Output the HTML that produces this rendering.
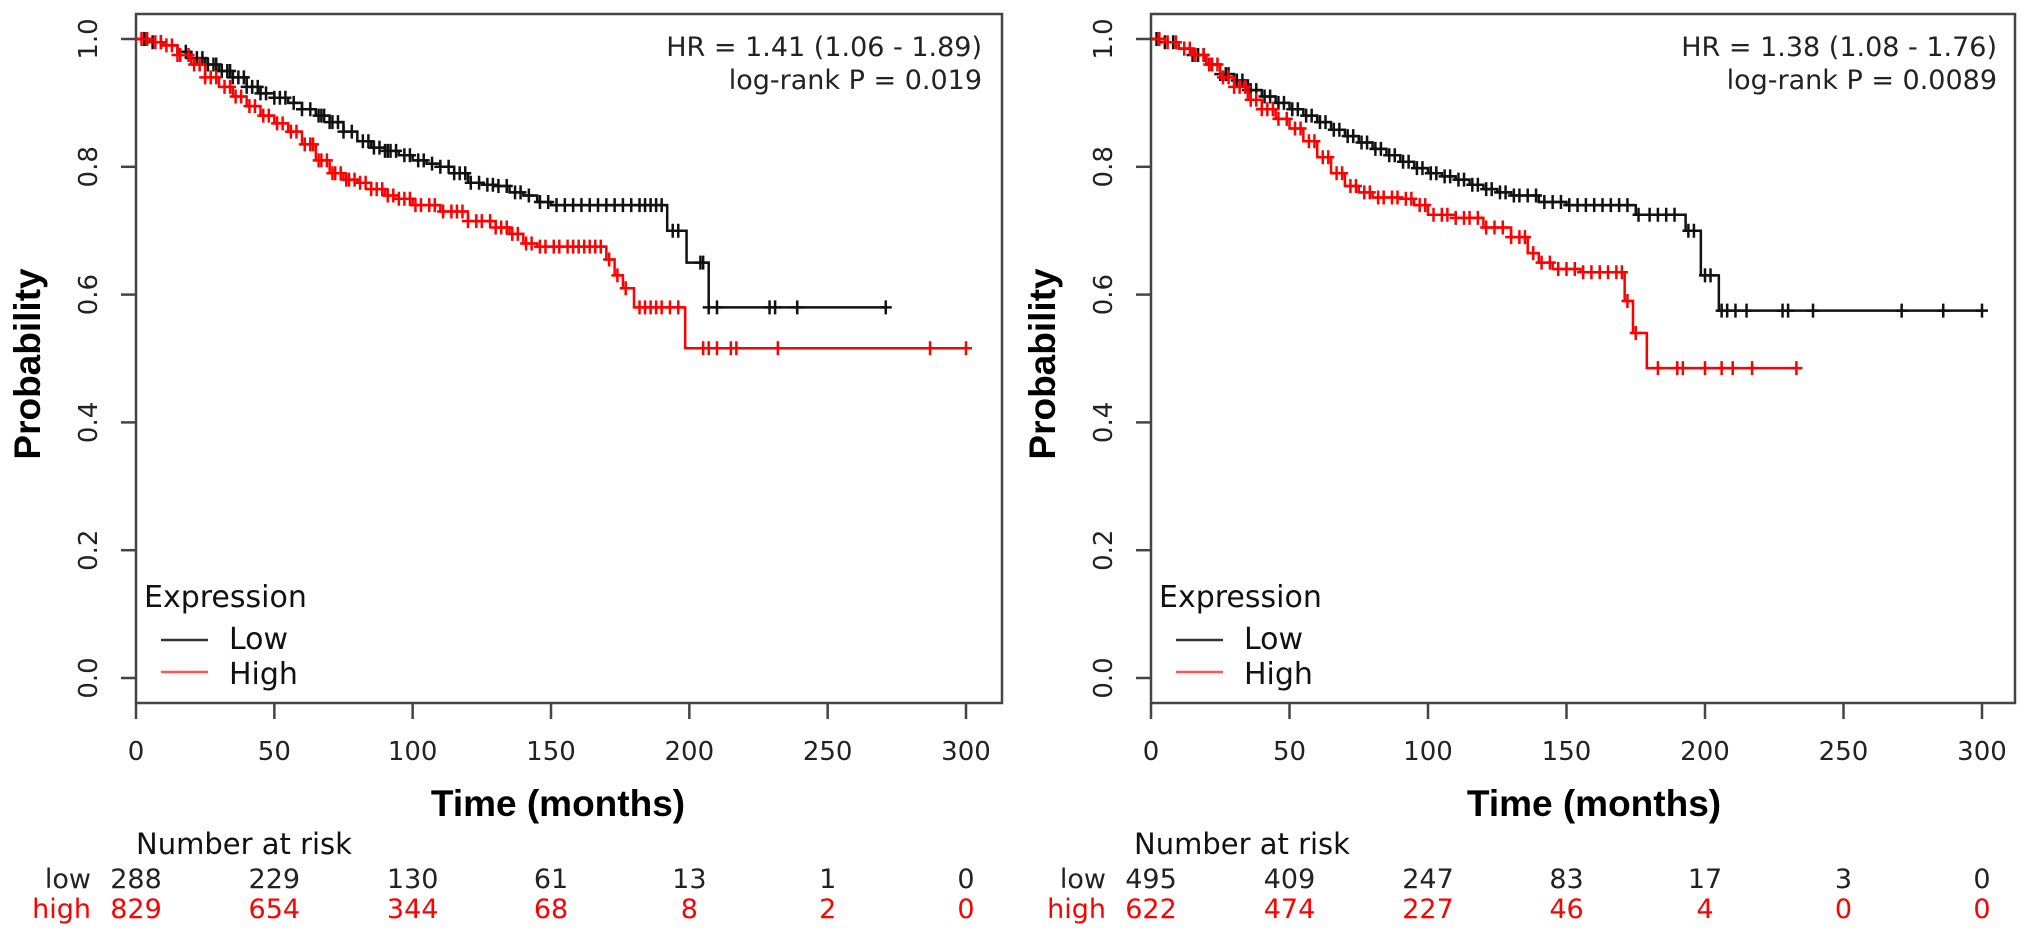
<!DOCTYPE html>
<html><head><meta charset="utf-8"><style>
html,body{margin:0;padding:0;background:#fff;}
svg{display:block;}
.t{font-family:"DejaVu Sans","Liberation Sans",sans-serif;}
.b{font-family:"Liberation Sans",sans-serif;font-weight:bold;}
</style></head><body>
<svg id="c" width="2031" height="940" viewBox="0 0 2031 940" xmlns="http://www.w3.org/2000/svg"></svg>
<script>
const xTicks=[0,50,100,150,200,250,300];
const yTicks=[0,0.2,0.4,0.6,0.8,1.0];
const yTickLabels=["0.0","0.2","0.4","0.6","0.8","1.0"];
// Panel A
const aLowT=[0,5,10,15,20,25,30,35,40,45,50,55,60,65,70,75,80,85,90,95,100,105,110,115,120,125,130,135,140,145,150,192,199,207];
const aLowS=[1,0.995,0.99,0.98,0.97,0.96,0.95,0.94,0.925,0.915,0.908,0.9,0.89,0.88,0.87,0.855,0.84,0.83,0.825,0.818,0.81,0.805,0.80,0.79,0.775,0.772,0.77,0.76,0.755,0.745,0.74,0.70,0.65,0.58];
const aLowEnd=271;
const aLowCens=[3,4,6,9,18,20,22,24,26,28,29,31,33,34,35,37,39,40,42,44,45,47,50,52,54,57,60,63,66,67,68,70,71,73,75,78,82,84,86,88,90,91,92,94,97,99,102,104,107,110,113,115,117,119,121,124,127,129,131,134,137,139,142,146,149,152,155,158,161,164,167,170,173,176,179,182,184,186,188,190,194,196,204,205,207,210,229,231,239,271];
const aHighT=[0,5,10,15,20,25,30,35,40,45,50,55,60,65,70,75,80,85,90,95,100,110,120,130,135,140,145,170,173,176,180,198.5];
const aHighS=[1,0.995,0.99,0.975,0.96,0.94,0.925,0.91,0.895,0.88,0.868,0.855,0.835,0.81,0.79,0.78,0.775,0.765,0.755,0.75,0.74,0.73,0.715,0.705,0.695,0.68,0.675,0.655,0.63,0.61,0.58,0.516];
const aHighEnd=300;
const aHighCens=[2,4,7,9,11,13,15,16,19,21,23,25,27,29,32,34,36,38,41,43,46,48,51,53,56,58,61,63,64,66,67,69,71,72,74,76,77,79,81,83,85,87,89,91,93,95,97,99,101,103,106,108,111,114,116,118,120,123,125,128,130,132,134,136,138,141,143,146,148,151,153,156,158,160,162,164,166,168,171,174,177,182,184,186,188,190,193,196,205,207,210,215,217,232,287,300];
const aRiskLow=["288","229","130","61","13","1","0"];
const aRiskHigh=["829","654","344","68","8","2","0"];
// Panel B
const bLowT=[0,5,10,15,20,25,30,35,40,45,50,55,60,65,70,75,80,85,90,95,100,105,110,115,120,125,130,140,150,175,193,198.5,205];
const bLowS=[1,0.995,0.985,0.975,0.96,0.945,0.935,0.92,0.91,0.9,0.89,0.88,0.87,0.858,0.848,0.838,0.828,0.818,0.808,0.798,0.79,0.785,0.78,0.772,0.765,0.76,0.755,0.745,0.74,0.725,0.70,0.63,0.575];
const bLowEnd=300;
const bLowCens=[2,5,8,12,15,17,19,22,25,27,28,31,33,35,36,38,41,43,46,48,51,53,56,58,61,63,66,68,71,73,76,78,81,83,86,88,91,93,96,98,101,103,106,108,111,113,116,118,121,123,126,128,131,133,136,139,142,145,148,151,154,157,160,163,166,169,172,176,180,183,186,189,194,196,200,202,206,208,211,215,228,230,239,271,286,300];
const bHighT=[0,5,10,15,20,25,30,35,40,45,50,55,60,65,70,75,80,90,95,100,110,120,130,136,140,145,155,171,174,179];
const bHighS=[1,0.995,0.985,0.975,0.96,0.94,0.925,0.905,0.89,0.875,0.86,0.84,0.815,0.79,0.77,0.76,0.752,0.75,0.74,0.725,0.72,0.705,0.69,0.665,0.65,0.64,0.635,0.59,0.54,0.485];
const bHighEnd=233;
const bHighCens=[3,6,9,12,14,16,19,21,22,24,26,28,30,32,34,36,38,40,42,44,46,49,52,54,57,59,62,64,67,69,72,74,77,79,82,84,87,89,92,94,97,99,102,105,107,110,113,115,118,121,124,127,130,133,135,138,141,144,147,150,153,156,159,162,165,168,170,172,175,183,190,192,200,206,210,217,233];
const bRiskLow=["495","409","247","83","17","3","0"];
const bRiskHigh=["622","474","227","46","4","0","0"];

const NS="http://www.w3.org/2000/svg";
const svg=document.getElementById('c');
function mk(tag,attrs,parent,text){const e=document.createElementNS(NS,tag);for(const k in attrs)e.setAttribute(k,attrs[k]);if(text!==undefined)e.textContent=text;(parent||svg).appendChild(e);return e;}
function stepAt(T,S,t){let v=S[0];for(let i=0;i<T.length;i++){if(T[i]<=t)v=S[i];}return v;}

function panel(p){
  const g=mk('g',{});
  
  
  const X=t=>p.x0+t*(p.x300-p.x0)/300;
  const Y=v=>678-v*639;
  const box=mk('rect',{x:p.boxL,y:14,width:p.boxR-p.boxL,height:689,fill:'none',stroke:'#444','stroke-width':2.5},g);
  
  
  xTicks.forEach(v=>{
    const l=mk('line',{x1:X(v),x2:X(v),y1:703,y2:719,stroke:'#444','stroke-width':2.5},g);
    
    
    const tx=mk('text',{x:X(v),y:760,'text-anchor':'middle','font-size':26,fill:'#222',class:'t'},g,String(v));
    
    
  });
  yTicks.forEach((v,i)=>{
    const l=mk('line',{x1:p.boxL-15,x2:p.boxL,y1:Y(v),y2:Y(v),stroke:'#444','stroke-width':2.5},g);
    
    
    const tx=mk('text',{x:0,y:0,transform:`translate(${p.boxL-39},${Y(v)}) rotate(-90)`,'text-anchor':'middle','font-size':26,fill:'#222',class:'t'},g,yTickLabels[i]);
    
    
  });
  const yt=mk('text',{x:0,y:0,transform:`translate(${p.boxL-96},364) rotate(-90)`,'text-anchor':'middle','font-size':37,fill:'#000',class:'b'},g,'Probability');
  
  
  const xt=mk('text',{x:p.xTitle,y:816,'text-anchor':'middle','font-size':37,fill:'#000',class:'b'},g,'Time (months)');
  
  
  const h1=mk('text',{x:p.statR,y:56,'text-anchor':'end','font-size':27,fill:'#222',class:'t'},g,p.hr);
  
  
  const h2=mk('text',{x:p.statR,y:89,'text-anchor':'end','font-size':27,fill:'#222',class:'t'},g,p.pv);
  
  
  function curve(T,S,end,C,color,nm){
    let d=`M${X(T[0])},${Y(S[0])}`;
    for(let i=1;i<T.length;i++){d+=` H${X(T[i])} V${Y(S[i])}`;}
    d+=` H${X(end)}`;
    const path=mk('path',{d:d,fill:'none',stroke:color,'stroke-width':2.5},g);
    
    
    let cd='';
    C.forEach(t=>{const x=X(t),y=Y(stepAt(T,S,t));cd+=`M${x-6},${y}H${x+6}M${x},${y-7}V${y+7}`;});
    const cp=mk('path',{d:cd,fill:'none',stroke:color,'stroke-width':2.5},g);
    
    
  }
  curve(p.lowT,p.lowS,p.lowEnd,p.lowC,'#111','low');
  curve(p.highT,p.highS,p.highEnd,p.highC,'#f00','high');
  const lt=mk('text',{x:p.x0+8,y:607,'font-size':30,fill:'#111',class:'t'},g,'Expression');
  
  
  const l1=mk('line',{x1:p.x0+25,x2:p.x0+72,y1:640,y2:640,stroke:'#333','stroke-width':2.5},g);
  
  
  const t1=mk('text',{x:p.x0+93,y:649,'font-size':30,fill:'#111',class:'t'},g,'Low');
  
  
  const l2=mk('line',{x1:p.x0+25,x2:p.x0+72,y1:672,y2:672,stroke:'#f55','stroke-width':2.5},g);
  
  
  const t2=mk('text',{x:p.x0+93,y:684,'font-size':30,fill:'#111',class:'t'},g,'High');
  
  
  const rt=mk('text',{x:p.riskL,y:854,'font-size':29,fill:'#111',class:'t'},g,'Number at risk');
  
  
  const rl=mk('text',{x:p.x0-45,y:888,'text-anchor':'end','font-size':27,fill:'#222',class:'t'},g,'low');
  
  
  const rh=mk('text',{x:p.x0-45,y:918,'text-anchor':'end','font-size':27,fill:'#f00',class:'t'},g,'high');
  
  
  xTicks.forEach((v,i)=>{
    const a=mk('text',{x:X(v),y:888,'text-anchor':'middle','font-size':27,fill:'#222',class:'t'},g,p.riskLow[i]);
    
    
    const b=mk('text',{x:X(v),y:918,'text-anchor':'middle','font-size':27,fill:'#f00',class:'t'},g,p.riskHigh[i]);
    
    
  });
}
panel({name:'km-panel-left',boxL:136,boxR:1002,x0:136,x300:966,xTitle:558,statR:982,riskL:136,
  hr:'HR = 1.41 (1.06 - 1.89)',pv:'log-rank P = 0.019',
  lowT:aLowT,lowS:aLowS,lowEnd:aLowEnd,lowC:aLowCens,highT:aHighT,highS:aHighS,highEnd:aHighEnd,highC:aHighCens,
  riskLow:aRiskLow,riskHigh:aRiskHigh});
panel({name:'km-panel-right',boxL:1151,boxR:2015,x0:1151,x300:1982,xTitle:1594,statR:1997,riskL:1134,
  hr:'HR = 1.38 (1.08 - 1.76)',pv:'log-rank P = 0.0089',
  lowT:bLowT,lowS:bLowS,lowEnd:bLowEnd,lowC:bLowCens,highT:bHighT,highS:bHighS,highEnd:bHighEnd,highC:bHighCens,
  riskLow:bRiskLow,riskHigh:bRiskHigh});
</script>
</body></html>
